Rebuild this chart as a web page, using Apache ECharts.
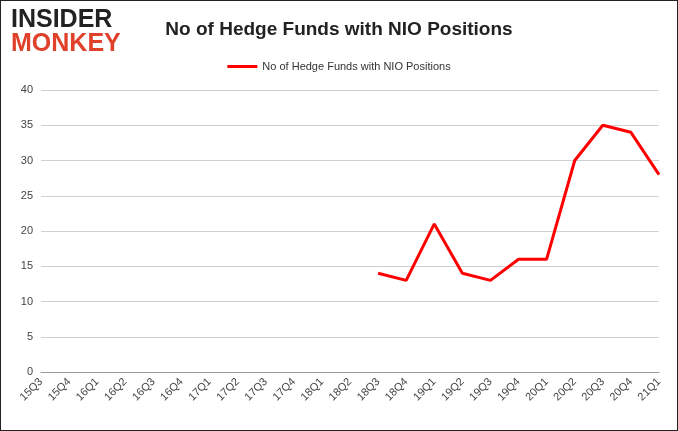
<!DOCTYPE html>
<html>
<head>
<meta charset="utf-8">
<script src="https://cdn.jsdelivr.net/npm/echarts@6/dist/echarts.min.js"></script>
<style>
  html, body { margin: 0; padding: 0; background: #fff; }
  #chart { width: 676px; height: 429px; border: 1px solid #222; }
</style>
</head>
<body>
<div id="chart"></div>
<script>
const quarters = ['15Q3','15Q4','16Q1','16Q2','16Q3','16Q4','17Q1','17Q2','17Q3','17Q4','18Q1','18Q2',
  '18Q3','18Q4','19Q1','19Q2','19Q3','19Q4','20Q1','20Q2','20Q3','20Q4','21Q1']
const funds = [null,null,null,null,null,null,null,null,null,null,null,null,
  14,13,21,14,13,16,16,30,35,34,28]
const yTicks = { min: 0, max: 40, interval: 5 }

const chart = echarts.init(document.getElementById('chart'))
chart.setOption({
  animation: false,
  title: {
    text: 'No of Hedge Funds with NIO Positions',
    left: 'center', top: 14,
    textStyle: { fontFamily: 'Liberation Sans', fontWeight: 'bold', fontSize: 19, color: '#222' }
  },
  graphic: [
    { type: 'text', left: 10, top: 7, style: { text: 'INSIDER', font: 'bold 25px "Liberation Sans"', fill: '#222' } },
    { type: 'text', left: 10, top: 31, style: { text: 'MONKEY', font: 'bold 25px "Liberation Sans"', fill: '#e0412a' } }
  ],
  legend: {
    top: 55, left: 'center', itemWidth: 30, itemHeight: 3,
    icon: 'rect',
    textStyle: { fontFamily: 'Liberation Sans', fontSize: 11, color: '#333' },
    data: ['No of Hedge Funds with NIO Positions']
  },
  grid: { left: 40, right: 18, top: 89, bottom: 58 },
  xAxis: {
    type: 'category', data: quarters, boundaryGap: false,
    axisTick: { show: false },
    axisLine: { lineStyle: { color: '#999' } },
    axisLabel: { interval: 0, rotate: 45, color: '#444', fontSize: 11, fontFamily: 'Liberation Sans', margin: 8 }
  },
  yAxis: {
    type: 'value', min: yTicks.min, max: yTicks.max, interval: yTicks.interval,
    axisLabel: { color: '#444', fontSize: 11, fontFamily: 'Liberation Sans' },
    splitLine: { lineStyle: { color: '#d0d0d0' } }
  },
  series: [{
    name: 'No of Hedge Funds with NIO Positions',
    type: 'line', data: funds, symbol: 'none',
    lineStyle: { color: '#ff0000', width: 3 }, itemStyle: { color: '#ff0000' }
  }]
})
</script>
</body>
</html>
